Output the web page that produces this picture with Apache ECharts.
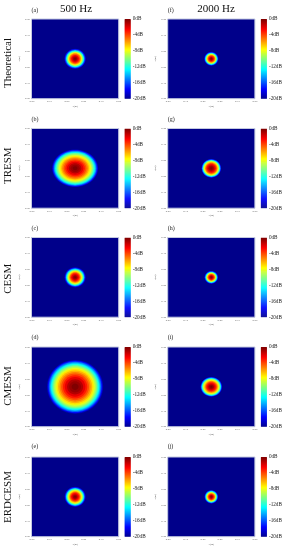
<!DOCTYPE html>
<html><head><meta charset="utf-8">
<style>html,body{margin:0;padding:0;background:#fff}#c{width:291px;height:550px}canvas{filter:blur(.35px)}</style>
<script src="https://cdn.jsdelivr.net/npm/echarts@6/dist/echarts.min.js"></script>
</head><body><div id="c"></div>
<script>
// dB level of every contour, outermost first
const levels = [-20,-19,-18,-17,-16,-15,-14,-13,-12,-11,-10,-9,-8,-7,-6,-5,-4,-3,-2,-1,-0.5,0];
// contour half-width along x (m) at each level
const theoretical500 = [.063,.061,.060,.058,.056,.054,.052,.050,.049,.047,.044,.042,.040,.037,.034,.032,.028,.024,.020,.014,.010,.005];
const tresm500 = [.134,.132,.129,.127,.124,.121,.119,.115,.112,.108,.104,.098,.093,.087,.080,.073,.065,.056,.047,.036,.026,.014];
const cesm500 = [.062,.061,.059,.057,.055,.053,.052,.050,.048,.046,.044,.042,.039,.037,.034,.031,.028,.024,.020,.014,.010,.005];
const cmesm500 = [.163,.161,.157,.154,.151,.148,.144,.140,.136,.131,.126,.120,.113,.106,.098,.089,.080,.070,.059,.046,.034,.020];
const erdcesm500 = [.062,.060,.059,.057,.055,.053,.052,.050,.048,.046,.044,.042,.039,.037,.034,.031,.028,.024,.020,.014,.010,.005];
const theoretical2000 = [.042,.041,.040,.038,.037,.036,.035,.034,.032,.031,.030,.028,.026,.025,.023,.021,.019,.016,.013,.009,.006,.003];
const tresm2000 = [.057,.056,.055,.054,.053,.052,.050,.049,.048,.046,.045,.043,.041,.039,.036,.034,.031,.027,.023,.017,.012,.006];
const cesm2000 = [.040,.039,.038,.037,.036,.034,.033,.032,.031,.030,.028,.027,.025,.024,.022,.020,.018,.015,.013,.009,.006,.003];
const cmesm2000 = [.063,.062,.061,.060,.058,.057,.056,.054,.053,.051,.049,.047,.044,.042,.039,.035,.032,.028,.023,.017,.012,.006];
const erdcesm2000 = [.040,.039,.038,.037,.036,.035,.033,.032,.031,.030,.028,.027,.025,.024,.022,.020,.018,.015,.012,.009,.006,.003];
// y half-width divided by x half-width for each panel
const yRatios = [1.03,.89,1.04,1.05,1.05,1.07,1.05,1.04,1.0,1.08];
const panelNames = ['(a)','(b)','(c)','(d)','(e)','(f)','(g)','(h)','(i)','(j)'];
const rowNames = ['Theoretical','TRESM','CESM','CMESM','ERDCESM'];
const colNames = ['500 Hz','2000 Hz'];
const axisTicks = [-0.25,-0.15,-0.05,0.05,0.15,0.25];
const barTicks = [-20,-16,-12,-8,-4,0];
const jet = ['#00008a','#0000ff','#007fff','#00ffff','#7fff7f','#ffff00','#ff7f00','#ff0000','#800000'];

const panels = [theoretical500,tresm500,cesm500,cmesm500,erdcesm500,theoretical2000,tresm2000,cesm2000,cmesm2000,erdcesm2000];
const tops = [19,128.5,237.5,347,457];
const rowCentres = [63,165.7,278.8,386,497];
const labelYs = [10,119.5,228.7,337,446.7];
const lefts = [31.5,167.7];
const W = 87.2, H = 79.7;
const SERIF = '"Liberation Serif","Times New Roman",serif';

// colour bar slices: one band per quarter dB over the bar's scale
const barBands = [];
for (let d = -20; d < 0; d += 0.25) barBands.push([d, d + 0.25, d + 0.125]);

const grid=[],xAxis=[],yAxis=[],series=[],graphic=[];
panels.forEach((radii,i)=>{
  const col = i<5?0:1, row = i%5;
  grid.push({left:lefts[col],top:tops[row],width:W,height:H,show:true,backgroundColor:'#00008a',borderColor:'#c3c9e0',borderWidth:1});
  xAxis.push({type:'value',gridIndex:i,min:-0.25,max:0.25,
    name:'x(m)',nameLocation:'middle',nameGap:6,nameTextStyle:{fontSize:2.8,color:'#666',fontFamily:SERIF},
    axisLine:{show:false},splitLine:{show:false},
    axisTick:{show:false,customValues:axisTicks},
    axisLabel:{customValues:axisTicks,fontSize:2.8,color:'#666',margin:1.5,fontFamily:SERIF,hideOverlap:false,showMinLabel:true,showMaxLabel:true}});
  yAxis.push({type:'value',gridIndex:i,min:-0.25,max:0.25,
    name:'y(m)',nameLocation:'middle',nameGap:10,nameRotate:90,nameTextStyle:{fontSize:2.8,color:'#666',fontFamily:SERIF},
    axisLine:{show:false},splitLine:{show:false},
    axisTick:{show:false,customValues:axisTicks},
    axisLabel:{customValues:axisTicks,fontSize:2.8,color:'#666',margin:1.5,fontFamily:SERIF,hideOverlap:false,showMinLabel:true,showMaxLabel:true}});
  const ratio = yRatios[i];
  series.push({type:'custom',xAxisIndex:i,yAxisIndex:i,animation:false,silent:true,clip:true,
    data:radii.map((r,k)=>[0,0,r,r*ratio,levels[k]]),
    encode:{x:0,y:1},
    renderItem(params,api){
      const c = api.coord([api.value(0),api.value(1)]);
      const s = api.size([api.value(2),api.value(3)]);
      return {type:'ellipse',shape:{cx:c[0],cy:c[1],rx:s[0],ry:s[1]},style:{fill:api.visual('color')}};
    }});
  graphic.push({type:'text',x:lefts[col],y:labelYs[row],style:{text:panelNames[i],font:'6px '+SERIF,fill:'#222',textVerticalAlign:'middle'}});
});
// colour bars: own grids, own dB axis
panels.forEach((radii,i)=>{
  const col = i<5?0:1, row = i%5, g = 10+i;
  grid.push({left:lefts[col]+W+6,top:tops[row],width:6,height:H});
  xAxis.push({type:'value',gridIndex:g,min:0,max:1,show:false});
  yAxis.push({type:'value',gridIndex:g,min:-20,max:0,position:'right',
    axisLine:{show:false},axisTick:{show:false,customValues:barTicks},splitLine:{show:false},
    axisLabel:{customValues:barTicks,formatter:'{value}dB',fontSize:5.2,color:'#222',margin:2,fontFamily:SERIF,hideOverlap:false,showMinLabel:true,showMaxLabel:true}});
  series.push({type:'custom',xAxisIndex:g,yAxisIndex:g,animation:false,silent:true,clip:true,
    data:barBands.map(b=>[b[0],b[1],0,0,b[2]]),
    encode:{y:[0,1]},
    renderItem(params,api){
      const a = api.coord([0,api.value(1)]), b = api.coord([1,api.value(0)]);
      return {type:'rect',shape:{x:a[0],y:a[1],width:b[0]-a[0],height:b[1]-a[1]+0.5},style:{fill:api.visual('color')}};
    }});
});
colNames.forEach((t,c)=>graphic.push({type:'text',x:[76,216][c],y:9,style:{text:t,font:'11px '+SERIF,fill:'#111',textAlign:'center',textVerticalAlign:'middle'}}));
rowNames.forEach((t,r)=>graphic.push({type:'text',x:8,y:rowCentres[r],rotation:Math.PI/2,style:{text:t,font:'11px '+SERIF,fill:'#111',textAlign:'center',textVerticalAlign:'middle'}}));

const visualMap = {type:'continuous',show:false,seriesIndex:series.map((s,i)=>i),dimension:4,min:-20,max:0,inRange:{color:jet}};
const chart = echarts.init(document.getElementById('c'),null,{renderer:'canvas'});
chart.setOption({backgroundColor:'#fff',animation:false,grid,xAxis,yAxis,series,visualMap,graphic});
</script></body></html>
